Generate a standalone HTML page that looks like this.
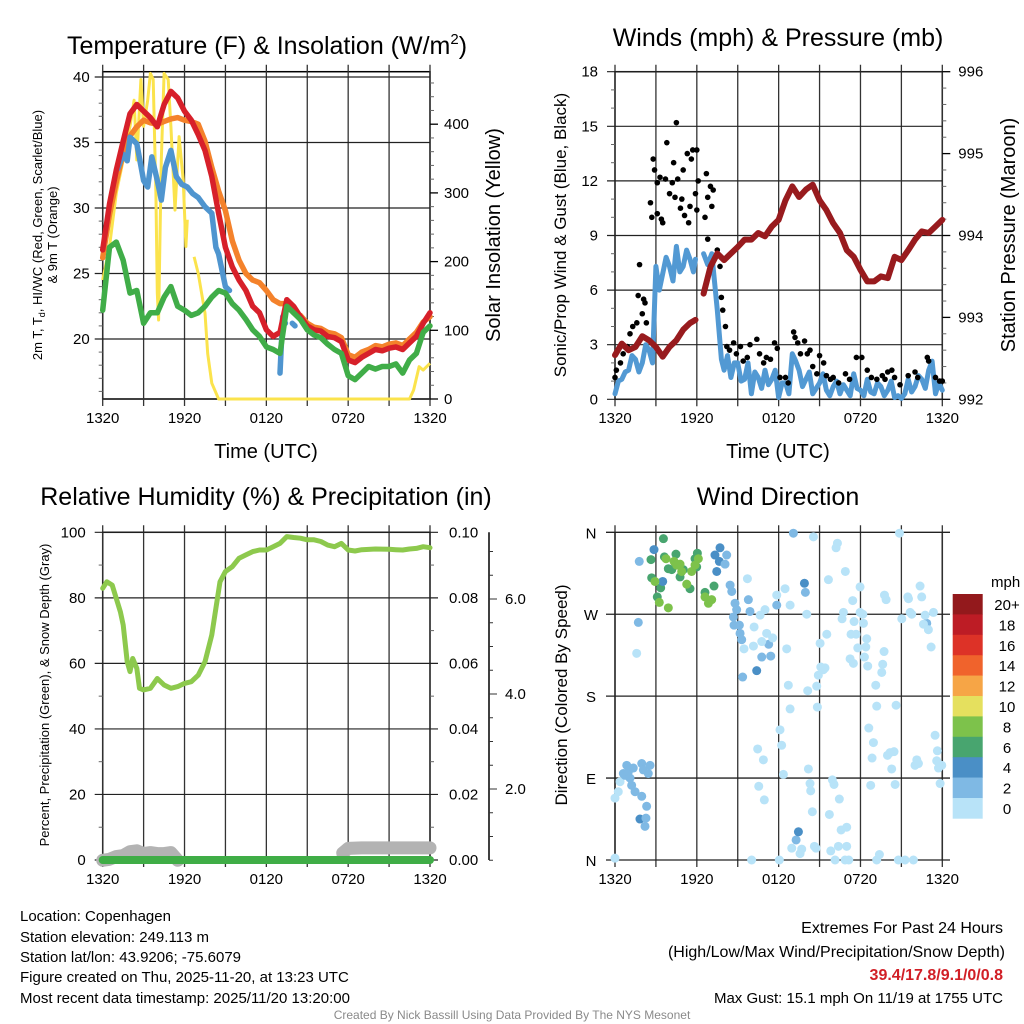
<!DOCTYPE html>
<html><head><meta charset="utf-8"><style>
html,body{margin:0;padding:0;background:#fff;}
svg{display:block;font-family:"Liberation Sans",Arial,sans-serif;}
</style></head><body>
<svg id="s" width="1024" height="1024" viewBox="0 0 1024 1024" xmlns="http://www.w3.org/2000/svg">
<text x="267" y="54" font-size="25" text-anchor="middle">Temperature (F) &amp; Insolation (W/m<tspan font-size="15" dy="-10">2</tspan><tspan dy="10">)</tspan></text>
<text x="778" y="46" font-size="25" text-anchor="middle">Winds (mph) &amp; Pressure (mb)</text>
<text x="266" y="505" font-size="25" text-anchor="middle">Relative Humidity (%) &amp; Precipitation (in)</text>
<text x="778" y="505" font-size="25" text-anchor="middle">Wind Direction</text>
<text x="266" y="458" font-size="20" text-anchor="middle">Time (UTC)</text>
<text x="778" y="458" font-size="20" text-anchor="middle">Time (UTC)</text>
<text transform="translate(42,235) rotate(-90)" font-size="13" text-anchor="middle">2m T, T<tspan font-size="9" dy="3">d</tspan><tspan dy="-3">, HI/WC (Red, Green, Scarlet/Blue)</tspan></text>
<text transform="translate(57,235) rotate(-90)" font-size="13" text-anchor="middle">&amp; 9m T (Orange)</text>
<text transform="translate(500,235) rotate(-90)" font-size="20" text-anchor="middle">Solar Insolation (Yellow)</text>
<text transform="translate(566,235) rotate(-90)" font-size="17" text-anchor="middle">Sonic/Prop Wind &amp; Gust (Blue, Black)</text>
<text transform="translate(1015,235) rotate(-90)" font-size="20" text-anchor="middle">Station Pressure (Maroon)</text>
<text transform="translate(49,695) rotate(-90)" font-size="13" text-anchor="middle">Percent, Precipitation (Green), &amp; Snow Depth (Gray)</text>
<text transform="translate(567,695) rotate(-90)" font-size="17" text-anchor="middle">Direction (Colored By Speed)</text>
<g font-size="15">
<text x="20" y="921">Location: Copenhagen</text>
<text x="20" y="942">Station elevation: 249.113 m</text>
<text x="20" y="962">Station lat/lon: 43.9206; -75.6079</text>
<text x="20" y="982">Figure created on Thu, 2025-11-20, at 13:23 UTC</text>
<text x="20" y="1003">Most recent data timestamp: 2025/11/20 13:20:00</text>
</g>
<g font-size="16" text-anchor="end">
<text x="1003" y="933">Extremes For Past 24 Hours</text>
<text x="1005" y="957">(High/Low/Max Wind/Precipitation/Snow Depth)</text>
<text x="1003" y="980" fill="#d11f26" font-weight="bold">39.4/17.8/9.1/0/0.8</text>
<text x="1003" y="1003" font-size="15">Max Gust: 15.1 mph On 11/19 at 1755 UTC</text>
</g>
<text x="512" y="1019" font-size="12" fill="#8a8a8a" text-anchor="middle">Created By Nick Bassill Using Data Provided By The NYS Mesonet</text>
</svg>
<script>
const tHours=[0,0.5,1,1.5,2,2.5,3,3.5,4,4.5,5,5.5,6,6.5,7,7.5,8,8.5,9,9.5,10,10.5,11,11.5,12,12.5,13,13.5,14,14.5,15,15.5,16,16.5,17,17.5,18,18.5,19,19.5,20,20.5,21,21.5,22,22.5,23,23.5,24];
const tempRed=[26.8,30.3,32.9,35.1,37.2,37.9,37.4,36.9,36.2,37.9,38.9,38.4,37.4,36.7,35.6,34.4,32.4,29.6,27.0,25.5,24.5,23.7,22.5,22.0,20.7,20.2,20.5,23.0,22.5,21.7,21.0,20.7,20.6,20.2,20.1,19.8,18.4,18.2,18.6,18.9,19.2,19.1,19.3,19.4,19.2,19.7,20.2,21.2,22.0];
const tempOrange=[26.2,29.5,32.0,34.2,35.5,36.2,36.7,36.5,36.4,36.6,36.8,36.9,36.7,36.6,36.4,35.1,33.1,31.3,29.8,27.5,26.0,25.0,24.5,24.3,23.7,23.0,22.7,22.7,22.0,21.8,21.2,20.9,20.8,20.5,20.4,20.1,18.8,18.6,19.0,19.2,19.5,19.4,19.6,19.7,19.5,20.0,20.5,21.3,21.7];
const tempDew=[22.2,27.0,27.4,26.0,23.5,23.7,21.2,22.0,22.0,23.2,24.0,22.5,22.2,21.8,22.0,22.5,23.2,23.7,23.5,22.7,22.2,21.5,20.7,20.2,19.4,19.2,18.9,22.5,22.0,21.5,20.7,20.3,20.1,19.6,19.2,18.9,17.2,16.9,17.4,17.9,17.7,17.9,17.9,18.1,17.4,18.4,18.9,20.5,21.0];
const hiHours=[1.1,1.5,1.8,2,2.5,3,3.3,3.6,4,4.3,4.6,5,5.4,5.8,6.2,6.6,7,7.5,8,8.3,8.5,9,9.3,null,13.0,13.2,13.4,null,13.9,14.1];
const hiValues=[33.0,34.1,33.6,35.4,34.9,32.1,31.6,33.9,32.1,30.6,33.1,34.4,32.4,31.8,31.6,31.1,30.8,30.1,29.6,27.0,26.5,24.0,23.7,null,17.4,21.7,21.2,null,21.2,21.0];
const solarHours=[0,0.5,1,1.5,2,2.3,2.5,2.8,3,3.3,3.5,3.7,3.9,4,4.1,4.3,4.5,4.8,5,5.3,5.6,5.9,6.1,6.2,null,6.7,7,7.5,7.7,8,8.5,22.5,22.8,23.2,23.5,24];
const solarValues=[173,222,300,348,397,435,348,465,397,435,474,465,300,154,115,348,474,465,397,275,382,319,222,261,null,207,183,125,66,23,0,0,13,47,42,52];
const pHours=[0,0.5,1,1.5,2,2.5,3,3.5,4,4.5,5,5.5,5.9,null,6.5,7,7.5,8,8.5,9,9.5,10,10.5,11,11.5,12,12.5,13,13.5,14,14.5,15,15.5,16,16.5,17,17.5,18,18.5,19,19.5,20,20.5,21,21.5,22,22.5,23,23.5,24];
const pressure=[992.54,992.68,992.6,992.64,992.77,992.72,992.64,992.52,992.64,992.72,992.85,992.93,992.97,null,993.29,993.62,993.78,993.70,993.78,993.86,993.95,993.95,994.03,993.99,994.11,994.19,994.43,994.60,994.47,994.56,994.62,994.43,994.31,994.15,994.03,993.82,993.74,993.58,993.44,993.44,993.50,993.48,993.74,993.70,993.82,993.95,994.05,994.03,994.11,994.19];
const wHours=[0,0.25,0.5,0.75,1,1.25,1.5,1.75,2,2.25,2.5,2.75,3,3.25,3.5,3.75,4,4.25,4.5,4.75,5,5.25,5.5,5.75,5.9,null,6.5,6.8,7.1,7.5,7.8,8,8.25,8.5,8.75,9,9.25,9.5,9.75,10,10.25,10.5,10.75,11,11.25,11.5,11.75,12,12.25,12.5,12.75,13,13.25,13.5,13.75,14,14.25,14.5,14.75,15,15.25,15.5,15.75,16,16.25,16.5,16.75,17,17.25,17.5,17.75,18,18.25,18.5,18.75,19,19.25,19.5,19.75,20,20.25,20.5,20.75,21,21.25,21.5,21.75,22,22.25,22.5,22.75,23,23.25,23.5,23.75,24];
const windSpd=[0.3,1.0,1.1,1.5,1.6,2.4,2.2,1.5,2.0,3.0,2.7,2.0,7.3,6.0,6.9,7.8,7.3,6.5,8.4,7.0,7.3,8.2,7.7,7.0,7.7,null,8.0,7.4,8.0,4.9,2.2,1.6,2.4,1.2,2.0,2.0,1.0,1.1,2.0,0.3,1.5,1.2,0.6,1.6,0.8,1.1,1.6,0.1,0.9,0.9,0.3,2.5,2.1,1.6,0.7,1.1,1.5,0.3,0.6,0.9,1.4,0.5,0.2,0.7,1.0,0.3,0.8,0.5,0.2,1.4,0.6,0.5,0.2,1.1,0.4,0.3,0.9,0.7,0.2,0.5,1.0,0.1,0.2,0.05,0.3,1.1,0.4,0.7,1.3,1.1,0.6,1.6,2.1,0.3,0.9,0.5];
const gustHours=[0,0.1,0.4,0.6,0.9,1.1,1.3,1.6,1.7,1.8,2.0,2.1,2.2,2.3,2.6,2.7,2.8,2.9,3.1,3.1,3.3,3.4,3.5,3.7,3.8,4.0,4.2,4.3,4.4,4.5,4.6,4.8,4.9,5.0,5.1,5.3,5.4,5.5,5.6,5.7,5.9,6.0,6.0,6.1,6.6,6.7,6.8,7.0,7.1,7.2,6.8,7.5,7.7,7.8,7.9,8.1,8.2,8.4,8.7,8.9,9.2,9.4,9.7,9.9,10.4,10.6,10.9,11.1,11.4,11.7,11.9,12.1,12.5,12.7,13.1,13.2,13.4,13.6,13.9,14.1,14.3,14.5,14.8,15.0,15.3,15.5,15.8,16.0,16.4,16.9,17.2,17.7,18.1,18.5,18.8,19.2,19.6,19.8,20.0,20.3,20.5,20.9,21.5,22.0,22.2,22.9,23.0,23.5,23.8,24.0];
const gustSpd=[1.2,1.6,2.0,2.5,2.9,3.6,4.0,4.2,5.7,7.4,4.7,5.5,5.3,4.2,10.8,10.0,13.2,12.6,10.2,11.9,12.2,9.9,9.7,12.1,14.1,11.3,11.9,13.0,11.1,15.2,12.1,10.5,11.0,12.6,10.1,13.5,9.7,10.6,13.2,13.7,11.3,13.7,10.4,12.0,10.0,12.4,11.1,11.7,10.6,11.5,8.8,8.2,7.3,5.6,4.9,4.0,2.9,2.7,3.1,2.5,2.9,2.1,2.3,3.0,3.3,2.5,2.0,2.3,2.2,3.1,2.8,1.2,1.2,0.9,3.7,3.4,3.1,2.5,3.2,2.5,2.7,1.8,1.4,2.4,2.0,1.3,1.1,1.2,0.9,1.4,1.1,2.3,2.3,1.6,1.2,1.1,1.3,1.1,1.5,1.6,1.2,0.8,1.3,1.5,1.2,2.3,2.1,1.2,1.0,1.0];
const rhHours=[0,0.3,0.7,1,1.3,1.5,1.8,2,2.2,2.5,2.7,3,3.5,4,4.5,5,5.5,6,6.5,7,7.5,8,8.3,8.6,9,9.5,10,10.5,11,11.5,12,12.5,13,13.5,14,14.5,15,15.5,16,16.5,17,17.5,18,18.5,19,20,21,21.5,22,22.5,23,23.5,24];
const rhValues=[82.9,84.9,83.9,79.8,75.7,71.7,60.5,57.5,61.5,58.5,52.4,51.9,52.4,55.4,53.4,52.4,52.9,53.9,54.4,56.4,60.5,68.7,76.8,84.9,88.0,89.5,92.1,93.1,94.1,94.6,94.6,95.6,96.6,98.7,98.4,98.2,97.7,97.7,97.2,96.1,95.6,96.6,94.6,94.3,94.7,94.9,94.8,94.7,94.6,94.9,95.1,95.6,95.3];
const precipHours=[0,24];
const precipValues=[0,0];
const snowHours=[0,0.5,1,1.5,2,2.5,3,3.5,4,4.5,5,5.5,null,17.6,18,19,20,21,22,23,24];
const snowValues=[0.5,0.52,0.58,0.6,0.68,0.7,0.64,0.66,0.64,0.64,0.66,0.5,null,0.65,0.75,0.76,0.76,0.76,0.76,0.76,0.76];
const dirHours=[0,0,0.24,0.37,0.61,0.86,0.73,0.98,1.1,1.22,1.34,1.47,1.96,2.08,2.44,2.57,1.96,2.32,1.83,2.27,2.2,1.59,1.71,1.78,
2.86,2.64,3.55,3.62,3.91,4.16,4.47,4.77,5.01,5.5,5.87,5.99,6.04,2.69,3.35,3.1,6.6,7.26,3.5,
2.93,3.25,3.91,3.74,4.33,4.77,5.26,5.62,5.87,6.11,6.6,6.85,7.09,4.89,4.52,
7.7,7.33,7.65,7.46,8.07,8.19,8.44,8.56,8.8,8.92,8.68,8.73,9.12,9.17,9.29,9.78,9.9,10.76,10.39,9.36,11.27,11.42,11.86,13.89,13.96,13.28,13.45,13.08,22.86,
9.71,9.46,10.15,10.2,10.64,10.76,11.0,11.12,11.56,11.86,12.47,12.59,12.84,12.71,12.84,12.1,12.22,12.35,10.46,10.88,10.54,10.95,10.02,12.05,12.96,13.57,13.69,14.06,14.13,14.18,14.3,14.35,14.47,14.62,14.74,14.55,14.84,14.79,14.91,15.04,15.09,15.28,15.4,15.53,15.65,15.72,15.82,15.94,16.06,16.14,16.21,16.31,16.38,16.45,16.58,16.65,16.75,16.87,16.89,16.99,16.99,17.14,17.24,17.31,17.43,17.48,17.53,17.68,17.8,17.97,17.97,18.17,18.22,18.29,18.39,18.46,18.53,18.61,18.75,18.85,18.95,19.12,19.19,19.19,19.39,19.56,19.63,19.73,19.76,19.88,19.98,20.17,20.29,20.46,20.54,20.61,20.86,21.03,21.47,21.52,21.64,21.76,22.0,22.13,22.25,22.37,22.49,22.62,22.74,22.98,23.18,23.35,23.47,23.64,23.59,23.72,23.84,23.96,20.78,21.27,21.88];
const dirValues=[2,68,75,86,95,104,93,97,90,82,101,75,106,99,95,104,70,59,45,46,37,227,261,328,
341,330,353,333,320,319,336,311,319,298,331,322,337,310,299,289,294,301,306,
306,283,277,331,328,325,303,317,324,331,289,282,286,317,324,
343,335,328,317,325,335,302,295,282,275,267,258,258,249,242,286,273,223,208,201,237,224,280,304,294,22,31,359,260,
309,232,235,256,269,240,275,249,244,291,298,232,280,192,166,143,126,94,122,110,81,66,0,0,13,7,12,270,186,100,84,76,53,15,13,355,168,191,203,238,212,209,211,248,308,50,10,88,83,0,343,348,15,67,33,265,272,0,317,36,15,0,221,248,285,216,262,248,233,300,272,270,260,223,234,243,213,145,82,112,129,192,169,0,6,206,215,229,291,286,115,118,100,119,83,170,359,265,289,287,272,270,104,110,106,301,289,259,269,253,234,272,137,120,109,101,84,104,0,0,0];
const dirSpeeds=[1,1,1,1,3,3,3,3,3,3,3,3,3,3,3,3,3,3,5,3,3,1,3,3,
5,7,7,7,7,7,7,7,7,7,7,7,7,7,7,7,7,7,5,
9,9,9,9,9,9,9,9,9,9,9,9,9,9,9,
5,5,5,5,3,3,3,3,3,3,3,3,3,3,3,3,3,3,5,3,3,3,3,5,3,3,5,3,3];
const legendLabels=["20+","18","16","14","12","10","8","6","4","2","0"];
const legendColors=["#93191c","#bd1c25","#dd3227","#f0632c","#f6a546","#e5e05e","#7dc24b","#48a56f","#4a8fc6","#7fb9e4","#b8e3f8"];
const xTickLabels=["1320","1920","0120","0720","1320"];
const tempTicks=[20,25,30,35,40];
const solarTicks=[0,100,200,300,400];
const windTicks=[0,3,6,9,12,15,18];
const presTicks=[992,993,994,995,996];
const rhTicks=[0,20,40,60,80,100];
const precipTicks=["0.00","0.02","0.04","0.06","0.08","0.10"];
const snowTicks=["2.0","4.0","6.0"];
const dirTicks=["N","W","S","E","N"];

const NS="http://www.w3.org/2000/svg";
const svg=document.getElementById('s');
function mk(tag,attrs,parent){const e=document.createElementNS(NS,tag);for(const k in attrs)e.setAttribute(k,attrs[k]);(parent||svg).appendChild(e);return e;}
function txt(x,y,s,size,anchor,parent){const t=mk('text',{x:x,y:y,'font-size':size,'text-anchor':anchor},parent);t.textContent=s;return t;}
function panel(name){
  const g=mk('g',{});
  
  
  return g;
}
function xgrid(g,L,R,T,B,labelY){
  const xs=h=>L+h*(R-L)/24;
  for(let h=0;h<=24;h+=3){
    const ln=mk('line',{x1:xs(h),x2:xs(h),y1:T-7,y2:B+7,stroke:'#333','stroke-width':1.3},g);
    
    
  }
  for(let i=0;i<xTickLabels.length;i++){
    const t=txt(xs(i*6),labelY,xTickLabels[i],15,'middle',g);
    
    
  }
}
function pathFrom(hs,vs,fx,fy){
  let d='',pen=false;
  for(let i=0;i<hs.length;i++){
    if(hs[i]===null||vs[i]===null){pen=false;continue;}
    d+=(pen?'L':'M')+fx(hs[i]).toFixed(1)+' '+fy(vs[i]).toFixed(1)+' ';pen=true;
  }
  return d;
}

(function(){
  const L=102.7,R=430,T=71.7,B=399;
  const g=panel('temperature');
  const xs=h=>L+h*(R-L)/24;
  const yT=v=>339-(v-20)*13.1;
  const yS=v=>399-v*0.687;
  mk('rect',{x:L,y:T,width:R-L,height:B-T,fill:'none',stroke:'#000','stroke-width':1.5},g);
  xgrid(g,L,R,T,B,423);
  tempTicks.forEach(v=>{
    mk('line',{x1:L-8,x2:R,y1:yT(v),y2:yT(v),stroke:'#222','stroke-width':1.2},g);
    const t=txt(L-13,yT(v)+5,String(v),15,'end',g);
    
    
  });
  for(let v=16;v<=40;v++){ if(v%5) mk('line',{x1:L-4,x2:L,y1:yT(v),y2:yT(v),stroke:'#666'},g);}
  solarTicks.forEach(v=>{
    mk('line',{x1:R,x2:R+8,y1:yS(v),y2:yS(v),stroke:'#000','stroke-width':1.3},g);
    const t=txt(R+14,yS(v)+5,String(v),15,'start',g);
    
    
  });
  for(let v=20;v<=460;v+=20){ if(v%100) mk('line',{x1:R,x2:R+4,y1:yS(v),y2:yS(v),stroke:'#666'},g);}
  const sol=mk('path',{d:pathFrom(solarHours,solarValues,xs,yS),fill:'none',stroke:'#fbe34c','stroke-width':3,'stroke-linejoin':'round'},g);
  
  
  const o=mk('path',{d:pathFrom(tHours,tempOrange,xs,yT),fill:'none',stroke:'#f4822b','stroke-width':5.5,'stroke-linejoin':'round','stroke-linecap':'round'},g);
  
  
  const hb=mk('path',{d:pathFrom(hiHours,hiValues,xs,yT),fill:'none',stroke:'#4f95cf','stroke-width':5.5,'stroke-linejoin':'round','stroke-linecap':'round'},g);
  
  
  const r=mk('path',{d:pathFrom(tHours,tempRed,xs,yT),fill:'none',stroke:'#d7202a','stroke-width':5.5,'stroke-linejoin':'round','stroke-linecap':'round'},g);
  
  
  const gr=mk('path',{d:pathFrom(tHours,tempDew,xs,yT),fill:'none',stroke:'#40ad48','stroke-width':5.5,'stroke-linejoin':'round','stroke-linecap':'round'},g);
  
  
})();

(function(){
  const L=615,R=942.3,T=71.7,B=399.3;
  const g=panel('winds');
  const xs=h=>L+h*(R-L)/24;
  const yW=v=>B-v*(B-T)/18;
  const yP=v=>B-(v-992)*(B-T)/4;
  mk('rect',{x:L,y:T,width:R-L,height:B-T,fill:'none',stroke:'#000','stroke-width':1.5},g);
  xgrid(g,L,R,T,B,423);
  windTicks.forEach(v=>{
    mk('line',{x1:L-8,x2:R,y1:yW(v),y2:yW(v),stroke:'#222','stroke-width':1.2},g);
    const t=txt(L-17,yW(v)+5,String(v),15,'end',g);
    
    
  });
  for(let v=1;v<18;v++){ if(v%3) mk('line',{x1:L-4,x2:L,y1:yW(v),y2:yW(v),stroke:'#666'},g);}
  presTicks.forEach(v=>{
    mk('line',{x1:R,x2:R+8,y1:yP(v),y2:yP(v),stroke:'#000','stroke-width':1.3},g);
    const t=txt(R+16,yP(v)+5,String(v),15,'start',g);
    
    
  });
  for(let v=992.2;v<996;v+=0.2){ if(Math.abs(v-Math.round(v))>0.05) mk('line',{x1:R,x2:R+4,y1:yP(v),y2:yP(v),stroke:'#666'},g);}
  const w=mk('path',{d:pathFrom(wHours,windSpd,xs,yW),fill:'none',stroke:'#5299d3','stroke-width':5,'stroke-linejoin':'round','stroke-linecap':'round'},g);
  
  
  for(let i=0;i<gustHours.length;i++){
    const c=mk('circle',{cx:xs(gustHours[i]),cy:yW(gustSpd[i]),r:2.8,fill:'#000'},g);
    
    
  }
  const p=mk('path',{d:pathFrom(pHours,pressure,xs,yP),fill:'none',stroke:'#981b1e','stroke-width':6,'stroke-linejoin':'round','stroke-linecap':'round'},g);
  
  
})();

(function(){
  const L=102.7,R=430,T=532.3,B=860;
  const g=panel('humidity');
  const xs=h=>L+h*(R-L)/24;
  const yR=v=>B-v*(B-T)/100;
  const yPr=v=>B-v*(B-T)/0.1;
  const ySn=v=>884-v*47.5;
  mk('rect',{x:L,y:T,width:R-L,height:B-T,fill:'none',stroke:'#000','stroke-width':1.5},g);
  xgrid(g,L,R,T,B,884);
  rhTicks.forEach(v=>{
    mk('line',{x1:L-8,x2:R+8,y1:yR(v),y2:yR(v),stroke:'#222','stroke-width':1.2},g);
    const t=txt(L-17,yR(v)+5,String(v),15,'end',g);
    
    
  });
  for(let v=10;v<100;v+=20){ mk('line',{x1:L-4,x2:L,y1:yR(v),y2:yR(v),stroke:'#666'},g); mk('line',{x1:R,x2:R+4,y1:yR(v),y2:yR(v),stroke:'#666'},g);}
  precipTicks.forEach((s,i)=>{
    const t=txt(R+19,yPr(i*0.02)+5,s,15,'start',g);
    
    
  });
  mk('line',{x1:489,x2:489,y1:T,y2:B,stroke:'#000','stroke-width':1.5},g);
  for(let v=0.5;v<=7;v+=0.5){ if(ySn(v)>=T) mk('line',{x1:489,x2:(v%2===0)?497:493,y1:ySn(v),y2:ySn(v),stroke:'#333'},g);}
  snowTicks.forEach(s=>{
    const t=txt(505,ySn(parseFloat(s))+5,s,15,'start',g);
    
    
  });
  const sn=mk('path',{d:pathFrom(snowHours,snowValues,xs,ySn),fill:'none',stroke:'#b3b3b3','stroke-width':13,'stroke-linejoin':'round','stroke-linecap':'round'},g);
  
  
  const pr=mk('path',{d:pathFrom(precipHours,precipValues,xs,yPr),fill:'none',stroke:'#3fad46','stroke-width':8,'stroke-linecap':'round'},g);
  
  
  const rh=mk('path',{d:pathFrom(rhHours,rhValues,xs,yR),fill:'none',stroke:'#8dc94d','stroke-width':5,'stroke-linejoin':'round','stroke-linecap':'round'},g);
  
  
})();

(function(){
  const L=615,R=942.3,T=532.3,B=860;
  const g=panel('wind-direction');
  const xs=h=>L+h*(R-L)/24;
  const yD=v=>B-v*(B-T)/360;
  mk('line',{x1:L,x2:L,y1:T,y2:B,stroke:'#000','stroke-width':1.5},g);
  mk('line',{x1:R,x2:R,y1:T,y2:B,stroke:'#000','stroke-width':1.5},g);
  xgrid(g,L,R,T,B,884);
  dirTicks.forEach((s,i)=>{
    const y=T+i*(B-T)/4;
    mk('line',{x1:606,x2:950,y1:y,y2:y,stroke:'#222','stroke-width':1.3},g);
    const t=txt(591,y+6,s,15,'middle',g);
    
    
  });
  for(let i=0;i<dirHours.length;i++){
    const sp=i<dirSpeeds.length?dirSpeeds[i]:1;
    const bin=Math.min(10,Math.floor(sp/2));
    const c=mk('circle',{cx:xs(dirHours[i]),cy:yD(dirValues[i]),r:4.5,fill:legendColors[10-bin]},g);
    
    
  }
  const lg=mk('g',{});
  
  
  const t0=txt(991,587,'mph',15,'start',lg);
  
  
  const top=594,bh=20.4;
  legendColors.forEach((c,i)=>{
    const r=mk('rect',{x:952.7,y:top+i*bh,width:30,height:bh+0.3,fill:c},lg);
    
    
    const t=txt(1007,top+i*bh+16,legendLabels[i],15,'middle',lg);
    
    
  });
})();
</script>
</body></html>
